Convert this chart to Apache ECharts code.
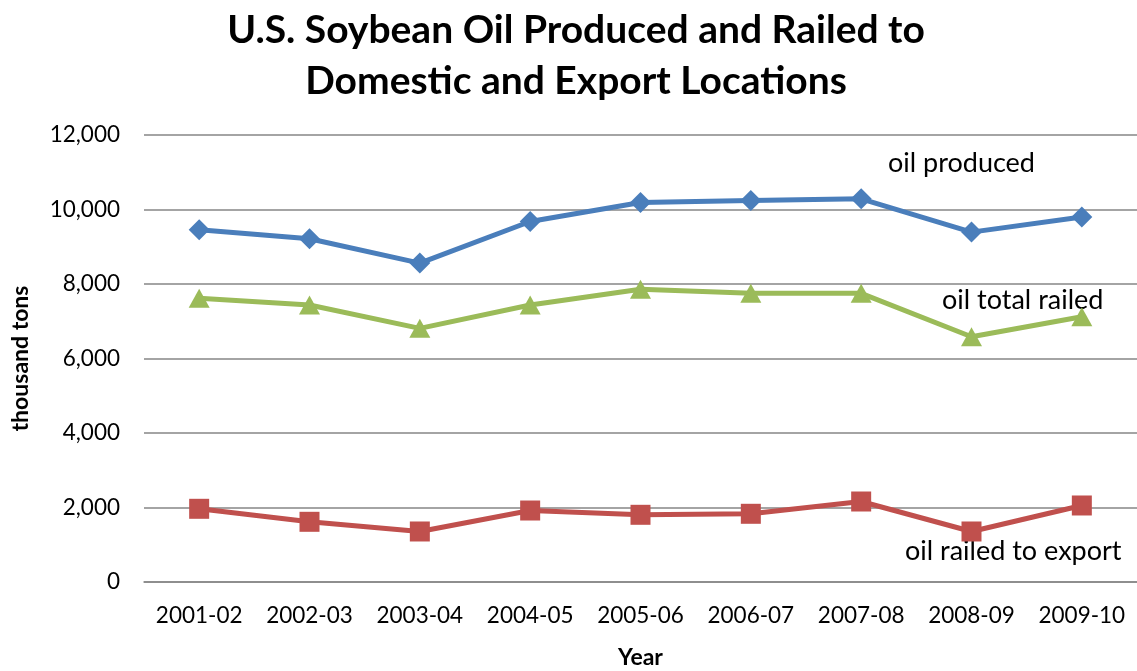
<!DOCTYPE html>
<html>
<head>
<meta charset="utf-8">
<script src="https://cdn.jsdelivr.net/npm/echarts@6/dist/echarts.min.js"></script>
<style>
  html, body { margin: 0; padding: 0; background: #fff; }
  #chart { width: 1137px; height: 671px; }
</style>
</head>
<body>
<div id="chart"></div>
<script>
var years = ['2001-02', '2002-03', '2003-04', '2004-05', '2005-06', '2006-07', '2007-08', '2008-09', '2009-10'];
var oilProduced = [9455, 9213, 8561, 9678, 10188, 10242, 10287, 9393, 9796];
var oilTotalRailed = [7616, 7436, 6810, 7436, 7858, 7750, 7750, 6585, 7122];
var oilRailedExport = [1965, 1616, 1356, 1919, 1804, 1831, 2161, 1356, 2054];
var yTicks = [0, 2000, 4000, 6000, 8000, 10000, 12000];

var font = 'Lato, "Open Sans", sans-serif';
var myChart = echarts.init(document.getElementById('chart'));

var option = {
    animation: false,
    title: {
        text: 'U.S. Soybean Oil Produced and Railed to\nDomestic and Export Locations',
        left: 571,
        textAlign: 'center',
        top: 0,
        textStyle: {
            fontFamily: font,
            fontWeight: 'bold',
            fontSize: 39,
            lineHeight: 51,
            color: '#000'
        }
    },
    grid: {
        left: 144,
        right: 0,
        top: 135,
        bottom: 89,
        containLabel: false,
        outerBoundsMode: 'none'
    },
    xAxis: {
        type: 'category',
        data: years,
        boundaryGap: true,
        name: 'Year',
        nameLocation: 'middle',
        nameGap: 64,
        nameTextStyle: { fontFamily: font, fontWeight: 'bold', fontSize: 23, color: '#000' },
        axisLine: { show: true, lineStyle: { color: '#868686', width: 1.5 } },
        axisTick: { show: false },
        axisLabel: { fontFamily: font, fontSize: 22.5, color: '#000', margin: 22, interval: 0, hideOverlap: false }
    },
    yAxis: {
        type: 'value',
        min: yTicks[0],
        max: yTicks[yTicks.length - 1],
        interval: 2000,
        name: 'thousand tons',
        nameLocation: 'middle',
        nameGap: 112,
        nameRotate: 90,
        nameTextStyle: { fontFamily: font, fontWeight: 'bold', fontSize: 23, color: '#000' },
        axisLine: { show: false },
        axisTick: { show: false },
        splitLine: { lineStyle: { color: '#868686', width: 1.5 } },
        axisLabel: {
            fontFamily: font,
            fontSize: 22.5,
            color: '#000',
            margin: 24,
            formatter: function (v) { return v.toLocaleString('en-US'); }
        }
    },
    series: [
        {
            name: 'oil produced',
            type: 'line',
            data: oilProduced,
            color: '#4A7EBB',
            symbol: 'diamond',
            symbolSize: 21,
            lineStyle: { width: 5 },
            itemStyle: { color: '#4A7EBB' }
        },
        {
            name: 'oil total railed',
            type: 'line',
            data: oilTotalRailed,
            color: '#9BBB59',
            symbol: 'triangle',
            symbolSize: [21, 19],
            lineStyle: { width: 5 },
            itemStyle: { color: '#9BBB59' }
        },
        {
            name: 'oil railed to export',
            type: 'line',
            data: oilRailedExport,
            color: '#C0504D',
            symbol: 'rect',
            symbolSize: 20,
            lineStyle: { width: 5 },
            itemStyle: { color: '#C0504D' }
        }
    ],
    graphic: [
        { type: 'text', left: 888, top: 150, style: { text: 'oil produced', font: '27px ' + font, fill: '#000' } },
        { type: 'text', left: 942, top: 287, style: { text: 'oil total railed', font: '27px ' + font, fill: '#000' } },
        { type: 'text', left: 905, top: 538, style: { text: 'oil railed to export', font: '27px ' + font, fill: '#000' } }
    ]
};
myChart.setOption(option);
</script>
</body>
</html>
